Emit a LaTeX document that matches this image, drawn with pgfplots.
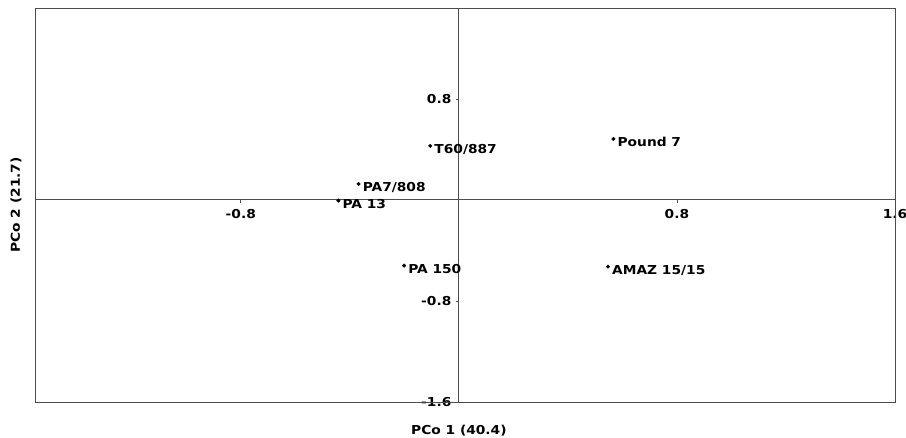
\documentclass[border=0pt]{standalone}
\usepackage{pgfplots}
\pgfplotsset{compat=1.18}
\usepackage{fontspec}
\setmainfont{DejaVu Sans Bold}[FakeStretch=1.12]
\newcommand{\lf}{\fontsize{12.3}{14}\selectfont}
\begin{document}
\begin{tikzpicture}
\begin{axis}[
  scale only axis, width=860pt, height=394pt,
  xmin=-1.555, xmax=1.6, ymin=-1.6, ymax=1.52,
  axis lines=middle,
  axis line style={draw=black!70, line width=0.9pt, -},
  xtick={-0.8,0.8,1.6}, xticklabels={-0.8,0.8,1.6},
  ytick={-1.6,-0.8,0.8}, yticklabels={-1.6,-0.8,0.8},
  tick align=outside, major tick length=3pt,
  tick style={black!70, line width=0.7pt},
  xticklabel style={font=\lf, anchor=north, yshift=-3pt},
  yticklabel style={font=\lf, anchor=east, xshift=-1pt},
  clip=false,
]
\addplot[only marks, mark=*, mark size=1.8pt, black,
  nodes near coords, point meta=explicit symbolic,
  every node near coord/.style={anchor=north west, font=\lf, inner sep=0pt, xshift=4pt, yshift=1.5pt}]
  coordinates {
    (-0.105,0.428) [T60/887]
    (0.567,0.483) [Pound 7]
    (-0.368,0.127) [PA7/808]
    (-0.442,-0.005) [PA 13]
    (-0.201,-0.520) [PA 150]
    (0.547,-0.528) [AMAZ 15/15]
  };
\draw[black!70, line width=0.9pt] (rel axis cs:0,0) rectangle (rel axis cs:1,1);
\node[font=\lf, anchor=north] at ([yshift=-20pt]axis cs:0,-1.6) {PCo 1 (40.4)};
\node[font=\lf, rotate=90, anchor=south] at ([xshift=-10pt]rel axis cs:0,0.5) {PCo 2 (21.7)};
\coordinate (bl) at ([xshift=-35pt,yshift=-36pt]rel axis cs:0,0);
\coordinate (tr) at ([xshift=11pt,yshift=8pt]rel axis cs:1,1);
\end{axis}
\pgfresetboundingbox
\path (bl) rectangle (tr);
\end{tikzpicture}
\end{document}
